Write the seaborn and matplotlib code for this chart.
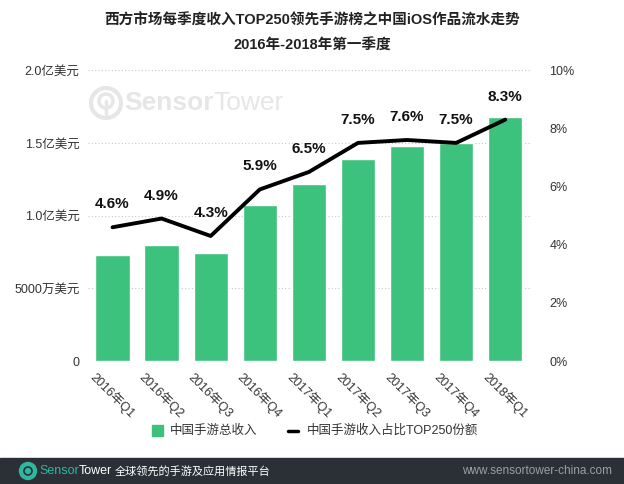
import matplotlib
matplotlib.use("Agg")
import matplotlib.pyplot as plt
import seaborn as sns
import pandas as pd
import numpy as np
from matplotlib.patches import Rectangle, Circle

sns.set_theme(style="white")
plt.rcParams['font.family'] = ['Liberation Sans', 'Noto Sans CJK SC', 'DejaVu Sans']

quarters = ["2016年Q1", "2016年Q2", "2016年Q3", "2016年Q4", "2017年Q1",
            "2017年Q2", "2017年Q3", "2017年Q4", "2018年Q1"]
revenue = [0.73, 0.80, 0.74, 1.07, 1.22, 1.39, 1.48, 1.50, 1.68]   # 亿美元
share = [4.6, 4.9, 4.3, 5.9, 6.5, 7.5, 7.6, 7.5, 8.3]              # %
left_ticks = [0, 0.5, 1.0, 1.5, 2.0]
left_labels = ["0", "5000万美元", "1.0亿美元", "1.5亿美元", "2.0亿美元"]
right_ticks = [0, 2, 4, 6, 8, 10]

df = pd.DataFrame({"quarter": quarters, "revenue": revenue, "share": share})

green = "#3cc27c"
W, H = 6.24, 4.84
fig = plt.figure(figsize=(W, H), dpi=100)
ax = fig.add_axes([0.141, 0.254, 0.708, 0.601])

sns.barplot(data=df, x="quarter", y="revenue", color=green, width=0.7,
            saturation=1, ax=ax, zorder=2)
ax.set_ylim(0, 2.0)
ax.set_xlim(-0.5, 8.5)
ax.set_yticks(left_ticks)
ax.set_yticklabels(left_labels, fontsize=9, color="#333333")
for y in left_ticks[1:]:
    ax.axhline(y, color="#c8c8c8", lw=0.8, ls=(0, (1, 2)), zorder=0)
ax.set_xlabel("")
ax.set_ylabel("")
ax.tick_params(axis="y", length=0, pad=6)
ax.tick_params(axis="x", length=0, pad=7)
ax.set_xticks(range(len(quarters)))
ax.set_xticklabels(quarters, rotation=-45, ha="center", va="top",
                   fontsize=9, color="#333333")
for s in ax.spines.values():
    s.set_visible(False)

ax2 = ax.twinx()
sns.lineplot(x=np.arange(len(quarters)), y=share, color="black", lw=2.8,
             ax=ax2, zorder=3)
ax2.set_ylim(0, 10)
ax2.set_yticks(right_ticks)
ax2.set_yticklabels([f"{t}%" for t in right_ticks], fontsize=9, color="#333333")
ax2.tick_params(axis="y", length=0, pad=14)
ax2.set_ylabel("")
for s in ax2.spines.values():
    s.set_visible(False)
for i, v in enumerate(share):
    ax2.text(i, v + 0.55, f"{v}%", ha="center", va="bottom", fontsize=11,
             fontweight="bold", color="#111111")

renderer = fig.canvas.get_renderer()

def two_part(x_px, y_px, a, b, size, ca, cb, wa="bold", wb="normal", z=7):
    t1 = fig.text(x_px / (W * 100), y_px, a, fontsize=size, color=ca,
                  fontweight=wa, va="center", ha="left", zorder=z)
    bb = t1.get_window_extent(renderer=renderer)
    t2 = fig.text(bb.x1 / (W * 100), y_px, b, fontsize=size, color=cb,
                  fontweight=wb, va="center", ha="left", zorder=z)
    return t2.get_window_extent(renderer=renderer)

# watermark (SensorTower logo)
wm_y = 1 - 103 / 484
wc = "#e6e6e6"
cx, cy = 106 / 100, (484 - 103) / 100
fig.patches.append(Circle((cx, cy), 0.15, transform=fig.dpi_scale_trans,
                          fill=False, ec=wc, lw=3, zorder=0))
fig.patches.append(Circle((cx, cy + 0.02), 0.07, transform=fig.dpi_scale_trans,
                          fill=False, ec=wc, lw=2.5, zorder=0))
fig.lines.append(plt.Line2D([cx, cx], [cy - 0.14, cy + 0.02],
                            transform=fig.dpi_scale_trans, color=wc, lw=2.5, zorder=0))
two_part(124, wm_y, "Sensor", "Tower", 19, wc, wc, z=0)

# title
fig.text(0.5, 0.958, "西方市场每季度收入TOP250领先手游榜之中国iOS作品流水走势",
         ha="center", va="center", fontsize=10.5, fontweight="bold", color="#222222")
fig.text(0.5, 0.905, "2016年-2018年第一季度",
         ha="center", va="center", fontsize=10.5, fontweight="bold", color="#222222")

# legend
ly = 1 - 431 / 484
fig.patches.append(Rectangle((152 / 624, 1 - 436 / 484), 11 / 624, 11 / 484,
                             transform=fig.transFigure, color=green))
fig.text(170 / 624, ly, "中国手游总收入", fontsize=9, va="center", color="#333333")
fig.lines.append(plt.Line2D([288 / 624, 298 / 624], [ly, ly], transform=fig.transFigure,
                            color="black", lw=2.5))
fig.text(307 / 624, ly, "中国手游收入占比TOP250份额", fontsize=9, va="center", color="#333333")

# footer
fy = 1 - 471 / 484
fig.patches.append(Rectangle((0, 0), 1, 26 / 484, transform=fig.transFigure,
                             color="#2b3036", zorder=5))
fig.patches.append(Circle((28 / 100, (484 - 471) / 100), 0.085,
                          transform=fig.dpi_scale_trans, color="#2fb7a0", zorder=6))
fig.patches.append(Circle((28 / 100, (484 - 471) / 100), 0.04,
                          transform=fig.dpi_scale_trans, fill=False, ec="#2b3036",
                          lw=1.2, zorder=6))
two_part(39, fy, "Sensor", "Tower", 9, "#2fb7a0", "white", wa="normal")
fig.text(115 / 624, fy, "全球领先的手游及应用情报平台", fontsize=8, color="white",
         va="center", zorder=7)
fig.text(612 / 624, fy, "www.sensortower-china.com", fontsize=8.5, color="#9aa0a6",
         va="center", ha="right", zorder=7)

fig.savefig("out.png", dpi=100)
